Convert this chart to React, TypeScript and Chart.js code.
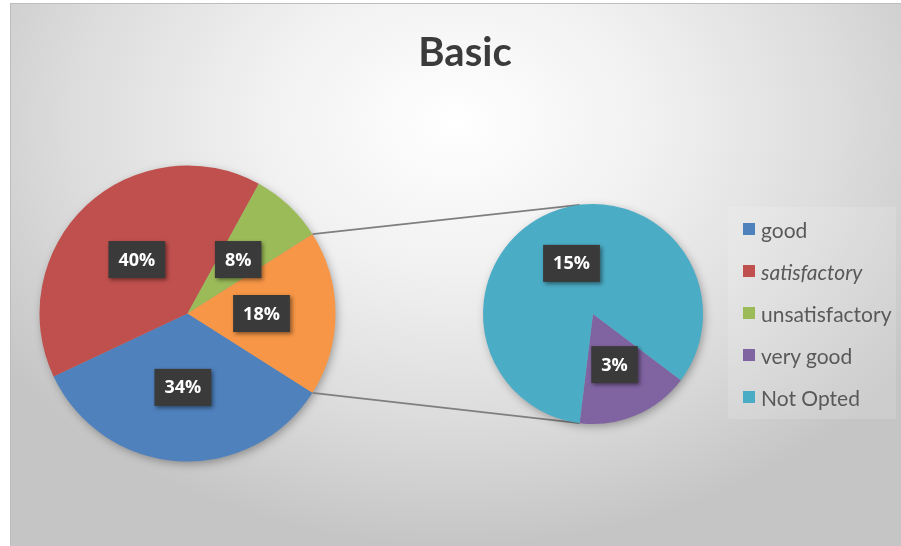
import React, { useEffect, useRef } from "react";
import { Chart, registerables } from "chart.js";

Chart.register(...registerables);

// ---- data ----
const TITLE = "Basic";
const mainLabels = ["good", "satisfactory", "unsatisfactory", "Other"];
const mainValues = [34, 40, 8, 18];
const mainColors = ["#4f81bd", "#c0504d", "#9bbb59", "#f79646"];
const subLabels = ["very good", "Not Opted"];
const subValues = [3, 15];
const subColors = ["#8064a2", "#4bacc6"];
const legendLabels = ["good", "satisfactory", "unsatisfactory", "very good", "Not Opted"];
const legendColors = ["#4f81bd", "#c0504d", "#9bbb59", "#8064a2", "#4bacc6"];
const legendItalic = [false, true, false, false, false];

const W = 891;
const H = 543;

const shadowPlugin = {
  id: "pieShadow",
  beforeDatasetsDraw(chart: any) {
    const arc = chart.getDatasetMeta(0).data[0];
    if (!arc) return;
    const { x, y, outerRadius } = arc.getProps(["x", "y", "outerRadius"], true);
    const ctx = chart.ctx;
    ctx.save();
    ctx.shadowColor = "rgba(0,0,0,0.35)";
    ctx.shadowBlur = 10;
    ctx.shadowOffsetX = 2;
    ctx.shadowOffsetY = 3;
    ctx.fillStyle = "#999";
    ctx.beginPath();
    ctx.arc(x, y, outerRadius - 1, 0, Math.PI * 2);
    ctx.fill();
    ctx.restore();
  },
};

const labelPlugin = {
  id: "boxLabels",
  afterDatasetsDraw(chart: any) {
    const ctx = chart.ctx;
    const ds = chart.data.datasets[0];
    chart.getDatasetMeta(0).data.forEach((arc: any, i: number) => {
      const p = arc.getCenterPoint(true);
      const text = `${ds.data[i]}%`;
      ctx.save();
      ctx.font = 'bold 18px "Open Sans"';
      const tw = ctx.measureText(text).width;
      const bw = tw + 20;
      const bh = 37;
      ctx.shadowColor = "rgba(0,0,0,0.45)";
      ctx.shadowBlur = 4;
      ctx.shadowOffsetX = 2;
      ctx.shadowOffsetY = 2;
      ctx.fillStyle = "#3a3a3a";
      ctx.fillRect(p.x - bw / 2, p.y - bh / 2, bw, bh);
      ctx.shadowColor = "transparent";
      ctx.fillStyle = "#ffffff";
      ctx.textAlign = "center";
      ctx.textBaseline = "middle";
      ctx.fillText(text, p.x, p.y + 1);
      ctx.restore();
    });
  },
};

export default function App() {
  const mainRef = useRef<HTMLCanvasElement>(null);
  const subRef = useRef<HTMLCanvasElement>(null);

  useEffect(() => {
    const main = new Chart(mainRef.current!, {
      type: "pie",
      data: {
        labels: mainLabels,
        datasets: [{ data: mainValues, backgroundColor: mainColors, borderWidth: 0 }],
      },
      options: {
        responsive: false,
        animation: false,
        rotation: 122.4,
        radius: 148,
        layout: { padding: { left: 29.5, right: W - 325.5, top: 162.5, bottom: H - 458.5 } },
        plugins: { legend: { display: false }, tooltip: { enabled: false }, title: { display: false } },
        events: [],
      },
      plugins: [shadowPlugin, labelPlugin],
    });

    const connectorPlugin = {
      id: "connectors",
      beforeDatasetsDraw(chart: any) {
        const mArc = main.getDatasetMeta(0).data[3] as any;
        const sArc = chart.getDatasetMeta(0).data[0];
        if (!mArc || !sArc) return;
        const m = mArc.getProps(["x", "y", "startAngle", "endAngle", "outerRadius"], true);
        const s = sArc.getProps(["x", "y", "endAngle", "outerRadius"], true);
        const ctx = chart.ctx;
        ctx.save();
        ctx.strokeStyle = "#7f7f7f";
        ctx.lineWidth = 1.75;
        ctx.beginPath();
        ctx.moveTo(m.x + m.outerRadius * Math.cos(m.startAngle), m.y + m.outerRadius * Math.sin(m.startAngle));
        ctx.lineTo(s.x + s.outerRadius * Math.cos(-s.endAngle), s.y + s.outerRadius * Math.sin(-s.endAngle));
        ctx.moveTo(m.x + m.outerRadius * Math.cos(m.endAngle), m.y + m.outerRadius * Math.sin(m.endAngle));
        ctx.lineTo(s.x + s.outerRadius * Math.cos(s.endAngle), s.y + s.outerRadius * Math.sin(s.endAngle));
        ctx.stroke();
        ctx.restore();
      },
    };

    const sub = new Chart(subRef.current!, {
      type: "pie",
      data: {
        labels: subLabels,
        datasets: [{ data: subValues, backgroundColor: subColors, borderWidth: 0 }],
      },
      options: {
        responsive: false,
        animation: false,
        rotation: 127,
        radius: 110,
        layout: { padding: { left: 473, right: W - 693, top: 201, bottom: H - 421 } },
        plugins: { legend: { display: false }, tooltip: { enabled: false }, title: { display: false } },
        events: [],
      },
      plugins: [connectorPlugin, shadowPlugin, labelPlugin],
    });

    return () => {
      sub.destroy();
      main.destroy();
    };
  }, []);

  return (
    <div
      style={{
        position: "fixed",
        left: 10,
        top: 3,
        width: W,
        height: H,
        overflow: "hidden",
        background:
          "radial-gradient(ellipse 62% 78% at 50% 22%, #ffffff 0%, #f1f1f1 35%, #dcdcdc 70%, #c5c5c5 100%)",
        boxShadow: "inset 1px 1px 0 #bdbdbd",
      }}
    >
      <div
        style={{
          position: "absolute",
          left: 0,
          top: 25,
          width: W,
          paddingLeft: 19,
          boxSizing: "border-box",
          textAlign: "center",
          font: 'bold 40px Lato, "Open Sans", sans-serif',
          lineHeight: "46px",
          color: "#3b3b3b",
        }}
      >
        {TITLE}
      </div>
      <canvas ref={mainRef} width={W} height={H} style={{ position: "absolute", left: 0, top: 0 }} />
      <canvas ref={subRef} width={W} height={H} style={{ position: "absolute", left: 0, top: 0 }} />
      <div
        style={{
          position: "absolute",
          left: 718,
          top: 204,
          width: 168,
          height: 212,
          background: "rgba(255,255,255,0.14)",
          boxSizing: "border-box",
          paddingTop: 1,
        }}
      >
        {legendLabels.map((l, i) => (
          <div
            key={l}
            style={{
              height: 42,
              display: "flex",
              alignItems: "center",
              font: `${legendItalic[i] ? "italic " : ""}21px Lato, "Open Sans", sans-serif`,
              color: "#595959",
            }}
          >
            <span
              style={{
                display: "inline-block",
                width: 12,
                height: 12,
                background: legendColors[i],
                marginLeft: 15,
                marginRight: 6,
              }}
            />
            {l}
          </div>
        ))}
      </div>
    </div>
  );
}
